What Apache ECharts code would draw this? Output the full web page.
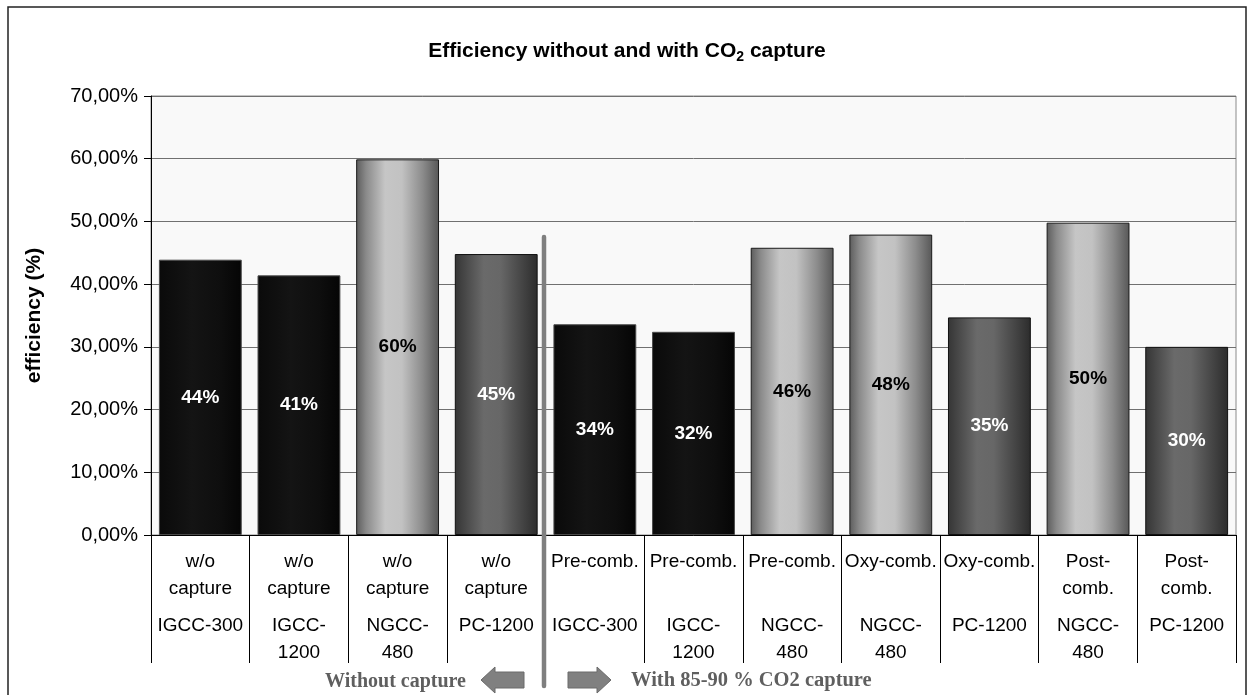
<!DOCTYPE html>
<html>
<head>
<meta charset="utf-8">
<script src="https://cdn.jsdelivr.net/npm/echarts@6/dist/echarts.min.js"></script>
<style>
html,body{margin:0;padding:0;background:#fff;}
#chart{width:1254px;height:695px;}
</style>
</head>
<body>
<div id="chart"></div>
<script>
// ---- data ----
var methods = ['w/o\ncapture','w/o\ncapture','w/o\ncapture','w/o\ncapture','Pre-comb.','Pre-comb.','Pre-comb.','Oxy-comb.','Oxy-comb.','Post-\ncomb.','Post-\ncomb.'];
var plants = ['IGCC-300','IGCC-\n1200','NGCC-\n480','PC-1200','IGCC-300','IGCC-\n1200','NGCC-\n480','NGCC-\n480','PC-1200','NGCC-\n480','PC-1200'];
var values = [43.9, 41.4, 59.9, 44.8, 33.6, 32.4, 45.8, 47.9, 34.7, 49.8, 30.0];
var plantType = ['IGCC','IGCC','NGCC','PC','IGCC','IGCC','NGCC','NGCC','PC','NGCC','PC'];
var yTicks = [0,10,20,30,40,50,60,70];

var FONT = 'Liberation Sans, Arial, sans-serif';
var categories = methods.map(function(m, i){ return m + '|' + plants[i]; });

var styles = {
  IGCC: { color: new echarts.graphic.LinearGradient(0,0,1,0,[
            {offset:0,color:'#0a0a0a'},{offset:0.4,color:'#141414'},{offset:0.75,color:'#0e0e0e'},{offset:1,color:'#050505'}]),
          border:'#4a4a4a', label:'#ffffff' },
  NGCC: { color: new echarts.graphic.LinearGradient(0,0,1,0,[
            {offset:0,color:'#5c5c5c'},{offset:0.12,color:'#8a8a8a'},{offset:0.35,color:'#c6c6c6'},{offset:0.55,color:'#c2c2c2'},{offset:0.8,color:'#8c8c8c'},{offset:1,color:'#575757'}]),
          border:'#1a1a1a', label:'#000000' },
  PC:   { color: new echarts.graphic.LinearGradient(0,0,1,0,[
            {offset:0,color:'#353535'},{offset:0.35,color:'#6a6a6a'},{offset:0.55,color:'#676767'},{offset:1,color:'#2c2c2c'}]),
          border:'#111111', label:'#ffffff' }
};

var seriesData = values.map(function(v, i){
  var s = styles[plantType[i]];
  return {
    value: v,
    itemStyle: { color: s.color, borderColor: s.border, borderWidth: 1 },
    label: { color: s.label }
  };
});

var chart = echarts.init(document.getElementById('chart'), null, {renderer:'canvas'});

var option = {
  backgroundColor: '#ffffff',
  animation: false,
  title: {
    text: '{a|Efficiency without and with CO}{s|2}{a| capture}',
    left: 'center',
    top: 34,
    textStyle: {
      rich: {
        a: { fontSize: 21, fontWeight: 'bold', fontFamily: FONT, color: '#000', lineHeight: 25 },
        s: { fontSize: 14, fontWeight: 'bold', fontFamily: FONT, color: '#000', lineHeight: 14, verticalAlign: 'bottom' }
      }
    }
  },
  grid: {
    left: 151, right: 18, top: 96, bottom: 160,
    show: true, backgroundColor: '#f9f9f9', borderColor: '#8a8a8a', borderWidth: 1
  },
  xAxis: {
    type: 'category',
    data: categories,
    axisLine: { show: true, lineStyle: { color: '#000', width: 1 } },
    axisTick: { show: true, interval: 0, length: 128, lineStyle: { color: '#000', width: 1 } },
    axisLabel: {
      interval: 0,
      margin: 13,
      color: '#000',
      fontFamily: FONT,
      fontSize: 19,
      lineHeight: 27,
      formatter: function(val){
        var parts = val.split('|');
        var m = parts[0];
        if (m.indexOf('\n') < 0) m = m + '\n ';
        return m + '\n{sp| }\n' + parts[1];
      },
      rich: {
        sp: { fontSize: 2, lineHeight: 10 }
      }
    }
  },
  yAxis: {
    type: 'value',
    min: 0, max: 70, interval: 10,
    name: 'efficiency (%)',
    nameLocation: 'middle',
    nameRotate: 90,
    nameGap: 106,
    nameTextStyle: { fontFamily: FONT, fontSize: 21, fontWeight: 'bold', color: '#000' },
    axisLine: { show: true, lineStyle: { color: '#000', width: 1 } },
    axisTick: { show: true, length: 7, inside: false, lineStyle: { color: '#000' } },
    axisLabel: {
      margin: 13,
      color: '#000',
      fontFamily: FONT,
      fontSize: 20,
      formatter: function(v){ return v.toFixed(2).replace('.', ',') + '%'; }
    },
    splitLine: { show: true, lineStyle: { color: '#707070', width: 1 } }
  },
  series: [{
    type: 'bar',
    data: seriesData,
    barCategoryGap: '16%',
    label: {
      show: true,
      position: 'inside',
      fontFamily: FONT,
      fontSize: 19,
      fontWeight: 'bold',
      formatter: function(p){ return Math.round(p.value) + '%'; }
    }
  }]
};

chart.setOption(option);

// annotations (divider, arrows, group captions)
var x3 = chart.convertToPixel({xAxisIndex:0}, 3);
var x4 = chart.convertToPixel({xAxisIndex:0}, 4);
var dx = Math.round((x3 + x4) / 2) - 2;
var ay = 680;

chart.setOption({
  graphic: [
    { type: 'rect', shape: { x: 8, y: 7, width: 1238, height: 700 },
      style: { fill: 'none', stroke: '#222', lineWidth: 1.5 }, z: 100 },
    { type: 'line', shape: { x1: dx, y1: 237, x2: dx, y2: 686 },
      style: { stroke: '#7f7f7f', lineWidth: 4.5, lineCap: 'round' }, z: 100 },
    { type: 'polygon', shape: { points: [
        [dx-63, ay],[dx-49, ay-13],[dx-49, ay-8],[dx-20, ay-8],[dx-20, ay+8],[dx-49, ay+8],[dx-49, ay+13]] },
      style: { fill: '#808080', stroke: '#6a6a6a', lineWidth: 1 }, z: 100 },
    { type: 'polygon', shape: { points: [
        [dx+67, ay],[dx+53, ay-13],[dx+53, ay-8],[dx+24, ay-8],[dx+24, ay+8],[dx+53, ay+8],[dx+53, ay+13]] },
      style: { fill: '#808080', stroke: '#6a6a6a', lineWidth: 1 }, z: 100 },
    { type: 'text', x: dx - 78, y: 682, z: 100,
      style: { text: 'Without capture', fill: '#5f5f5f', font: 'bold 20px "Liberation Serif", "Times New Roman", serif',
               textAlign: 'right', textVerticalAlign: 'middle' } },
    { type: 'text', x: dx + 87, y: 681, z: 100,
      style: { text: 'With 85-90 % CO2 capture', fill: '#5f5f5f', font: 'bold 20.5px "Liberation Serif", "Times New Roman", serif',
               textAlign: 'left', textVerticalAlign: 'middle' } }
  ]
});
</script>
</body>
</html>
